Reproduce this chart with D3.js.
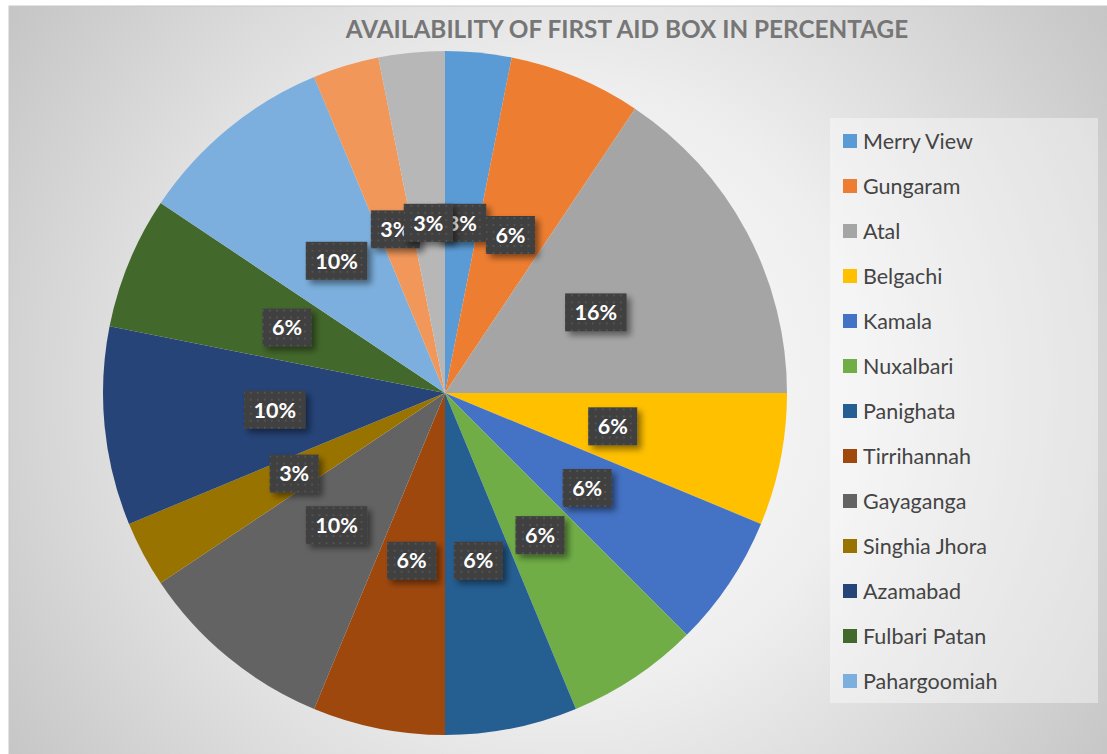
<!doctype html>
<html>
<head>
<meta charset="utf-8">
<script src="https://cdnjs.cloudflare.com/ajax/libs/d3/7.8.5/d3.min.js"></script>
<style>
  body { margin: 0; background: #fff; }
  svg { display: block; font-family: Lato, "Open Sans", sans-serif; }
</style>
</head>
<body>
<svg id="chart" width="1107" height="754"></svg>
<script>
// data (slice sizes), shown labels as printed on the chart
var places = ["Merry View", "Gungaram", "Atal", "Belgachi", "Kamala", "Nuxalbari", "Panighata",
  "Tirrihannah", "Gayaganga", "Singhia Jhora", "Azamabad", "Fulbari Patan", "Pahargoomiah",
  "Other 1", "Other 2"];
var counts = [1, 2, 5, 2, 2, 2, 2, 2, 3, 1, 3, 2, 3, 1, 1];
var shownPct = ["3%", "6%", "16%", "6%", "6%", "6%", "6%", "6%", "10%", "3%", "10%", "6%", "10%", "3%", "3%"];
var legendCount = 13; // only first 13 entries fit in the legend box

var colors = ["#5B9BD5", "#ED7D31", "#A5A5A5", "#FFC000", "#4472C4", "#70AD47", "#255E91",
  "#9E480E", "#636363", "#997300", "#264478", "#43682B", "#7CAFDD", "#F1975A", "#B7B7B7"];

var svg = d3.select("#chart");
var defs = svg.append("defs");

// background gradient
var grad = defs.append("radialGradient").attr("id", "bg")
  .attr("gradientUnits", "userSpaceOnUse")
  .attr("cx", 560).attr("cy", 390).attr("r", 680);
grad.append("stop").attr("offset", "0%").attr("stop-color", "#ffffff");
grad.append("stop").attr("offset", "45%").attr("stop-color", "#eeeeee");
grad.append("stop").attr("offset", "100%").attr("stop-color", "#c4c4c4");

// dotted dark pattern for data labels
var pat = defs.append("pattern").attr("id", "dots")
  .attr("patternUnits", "userSpaceOnUse").attr("width", 7).attr("height", 7);
pat.append("rect").attr("width", 7).attr("height", 7).attr("fill", "#3f3f3f");
pat.append("rect").attr("x", 3).attr("y", 3).attr("width", 2).attr("height", 2).attr("fill", "#525252");

var shadow = defs.append("filter").attr("id", "shadow")
  .attr("x", "-30%").attr("y", "-30%").attr("width", "170%").attr("height", "170%");
shadow.append("feGaussianBlur").attr("in", "SourceAlpha").attr("stdDeviation", 3).attr("result", "b");
shadow.append("feOffset").attr("in", "b").attr("dx", 4).attr("dy", 4).attr("result", "o");
shadow.append("feComponentTransfer").attr("in", "o").attr("result", "s")
  .append("feFuncA").attr("type", "linear").attr("slope", 0.45);
var merge = shadow.append("feMerge");
merge.append("feMergeNode").attr("in", "s");
merge.append("feMergeNode").attr("in", "SourceGraphic");

// chart area
svg.append("rect").attr("x", 9).attr("y", 6).attr("width", 1110).attr("height", 760)
  .attr("fill", "url(#bg)").attr("stroke", "#c8c8c8").attr("stroke-width", 1);

// title
var title = svg.append("text")
  .attr("x", 627).attr("y", 38)
  .attr("text-anchor", "middle")
  .attr("font-size", 23).attr("font-weight", "bold")
  .attr("fill", "#767676")
  .text("AVAILABILITY OF FIRST AID BOX IN PERCENTAGE");
var tw = title.node().getComputedTextLength();
title.attr("font-size", 23 * 563 / tw);

// pie
var cx = 445, cy = 393, radius = 342;
var pie = d3.pie().sort(null).value(function(d) { return d; });
var arcs = pie(counts);
var arc = d3.arc().innerRadius(0).outerRadius(radius);

var g = svg.append("g").attr("transform", "translate(" + cx + "," + cy + ")");
g.selectAll("path.slice")
  .data(arcs)
  .enter().append("path")
  .attr("class", "slice")
  .attr("d", arc)
  .attr("fill", function(d, i) { return colors[i]; });

// data labels, drawn in order so later ones sit on top
arcs.forEach(function(d, i) {
  var c = arc.centroid(d);
  var lg = g.append("g").attr("transform", "translate(" + c[0] + "," + c[1] + ")");
  var box = lg.append("rect").attr("fill", "url(#dots)").attr("filter", "url(#shadow)");
  var t = lg.append("text")
    .attr("text-anchor", "middle")
    .attr("dy", "0.36em")
    .attr("font-size", 21.5).attr("font-weight", "bold")
    .attr("fill", "#ffffff")
    .text(shownPct[i]);
  var w = t.node().getComputedTextLength() + 19;
  box.attr("x", -w / 2).attr("y", -19).attr("width", w).attr("height", 38);
});

// legend
var legend = svg.append("g");
legend.append("rect").attr("x", 830).attr("y", 118).attr("width", 268).attr("height", 585)
  .attr("fill", "#ffffff").attr("fill-opacity", 0.4);

var yScale = d3.scalePoint().domain(d3.range(legendCount)).range([141, 681]);
var items = legend.selectAll("g.item")
  .data(places.slice(0, legendCount))
  .enter().append("g")
  .attr("class", "item")
  .attr("transform", function(d, i) { return "translate(843," + yScale(i) + ")"; });
items.append("rect")
  .attr("x", 0).attr("y", -7).attr("width", 14).attr("height", 14)
  .attr("fill", function(d, i) { return colors[i]; });
items.append("text")
  .attr("x", 20).attr("dy", "0.35em")
  .attr("font-size", 21.5)
  .attr("fill", "#444444")
  .text(function(d) { return d; });
</script>
</body>
</html>
